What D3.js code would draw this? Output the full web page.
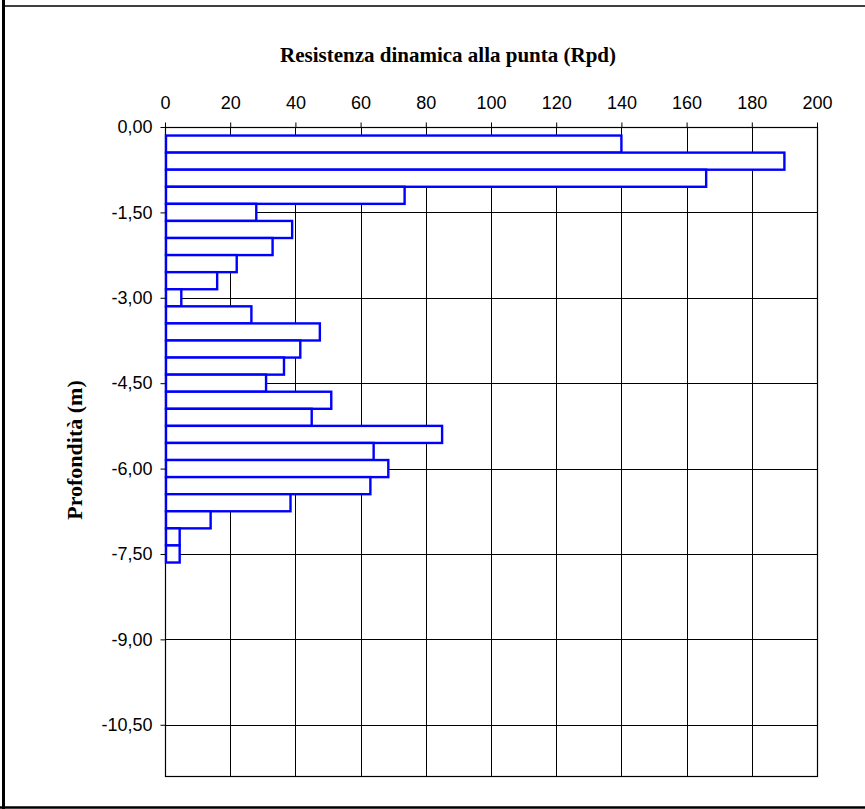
<!DOCTYPE html>
<html>
<head>
<meta charset="utf-8">
<script src="https://cdn.jsdelivr.net/npm/d3@7"></script>
<style>
  html, body { margin: 0; padding: 0; background: #ffffff; }
  svg { display: block; }
</style>
</head>
<body>
<script>
// ---- data ----
const depths = [0.3, 0.6, 0.9, 1.2, 1.5, 1.8, 2.1, 2.4, 2.7, 3.0, 3.3, 3.6, 3.9, 4.2, 4.5,
                4.8, 5.1, 5.4, 5.7, 6.0, 6.3, 6.6, 6.9, 7.2, 7.5];
const rpd = [140, 190, 166, 73.5, 28, 39, 33, 22, 16, 5, 26.5, 47.5, 41.5, 36.5, 31,
             51, 45, 85, 64, 68.5, 63, 38.5, 14, 4.5, 4.5];
const stepThickness = 0.3;
const xTicks = [0, 20, 40, 60, 80, 100, 120, 140, 160, 180, 200];
const yTicks = [0, 1.5, 3, 4.5, 6, 7.5, 9, 10.5];
const xDomain = [0, 200];
const yDomain = [0, 11.4];
const titleText = "Resistenza dinamica alla punta (Rpd)";
const yTitleText = "Profondità (m)";

// ---- layout ----
const W = 865, H = 809;
const plot = { left: 165, right: 817, top: 127, bottom: 776 };

const svg = d3.select("body").append("svg").attr("width", W).attr("height", H);
svg.append("rect").attr("width", W).attr("height", H).attr("fill", "#fff");

// outer frame
svg.append("line").attr("x1", 3.5).attr("x2", 3.5).attr("y1", 0).attr("y2", H)
  .attr("stroke", "#000").attr("stroke-width", 3);
svg.append("line").attr("x1", 5).attr("x2", W).attr("y1", 6).attr("y2", 6)
  .attr("stroke", "#404040").attr("stroke-width", 2);
svg.append("line").attr("x1", 0).attr("x2", W).attr("y1", 807.5).attr("y2", 807.5)
  .attr("stroke", "#000").attr("stroke-width", 2.5);

const x = d3.scaleLinear().domain(xDomain).range([plot.left, plot.right]);
const y = d3.scaleLinear().domain(yDomain).range([plot.top, plot.bottom]);

// gridlines
const g = svg.append("g");
g.selectAll("line.vg").data(xTicks.slice(1, -1)).join("line")
  .attr("x1", d => Math.round(x(d)) + 0.5).attr("x2", d => Math.round(x(d)) + 0.5)
  .attr("y1", plot.top).attr("y2", plot.bottom)
  .attr("stroke", "#000").attr("stroke-width", 1);
g.selectAll("line.hg").data(yTicks.slice(1)).join("line")
  .attr("y1", d => Math.round(y(d)) + 0.5).attr("y2", d => Math.round(y(d)) + 0.5)
  .attr("x1", plot.left).attr("x2", plot.right)
  .attr("stroke", "#000").attr("stroke-width", 1);

// plot border
svg.append("rect")
  .attr("x", plot.left + 0.5).attr("y", plot.top + 0.5)
  .attr("width", plot.right - plot.left).attr("height", plot.bottom - plot.top)
  .attr("fill", "none").attr("stroke", "#000").attr("stroke-width", 1.2);

// bars
svg.append("g").selectAll("rect").data(depths).join("rect")
  .attr("x", x(0) + 1)
  .attr("y", (d) => y(d - stepThickness / 2))
  .attr("width", (d, i) => x(rpd[i]) - x(0) - 1)
  .attr("height", y(stepThickness) - y(0))
  .attr("fill", "#fff")
  .attr("stroke", "#0000ff")
  .attr("stroke-width", 2.4);

// axes
const fmtY = d => d === 0 ? "0,00" : "-" + d3.format(".2f")(d).replace(".", ",");

const yAxis = svg.append("g").attr("transform", `translate(${plot.left + 0.5},0)`)
  .call(d3.axisLeft(y).tickValues(yTicks).tickSize(5).tickPadding(8).tickFormat(fmtY));
yAxis.select(".domain").remove();
yAxis.selectAll("line").attr("stroke", "#000");
yAxis.selectAll("text").attr("font-family", "Liberation Sans, Arial, sans-serif")
  .attr("font-size", 18).attr("fill", "#000");

const xAxis = svg.append("g").attr("transform", `translate(0,${plot.top + 0.5})`)
  .call(d3.axisTop(x).tickValues(xTicks).tickSize(5).tickPadding(14));
xAxis.select(".domain").remove();
xAxis.selectAll("line").attr("stroke", "#000");
xAxis.selectAll("text").attr("font-family", "Liberation Sans, Arial, sans-serif")
  .attr("font-size", 18).attr("fill", "#000");

// titles
svg.append("text")
  .attr("x", 448).attr("y", 62)
  .attr("text-anchor", "middle")
  .attr("font-family", "Liberation Serif, Times New Roman, serif")
  .attr("font-weight", "bold").attr("font-size", 21)
  .text(titleText);

svg.append("text")
  .attr("transform", "translate(82,450) rotate(-90)")
  .attr("text-anchor", "middle")
  .attr("font-family", "Liberation Serif, Times New Roman, serif")
  .attr("font-weight", "bold").attr("font-size", 22)
  .text(yTitleText);
</script>
</body>
</html>
